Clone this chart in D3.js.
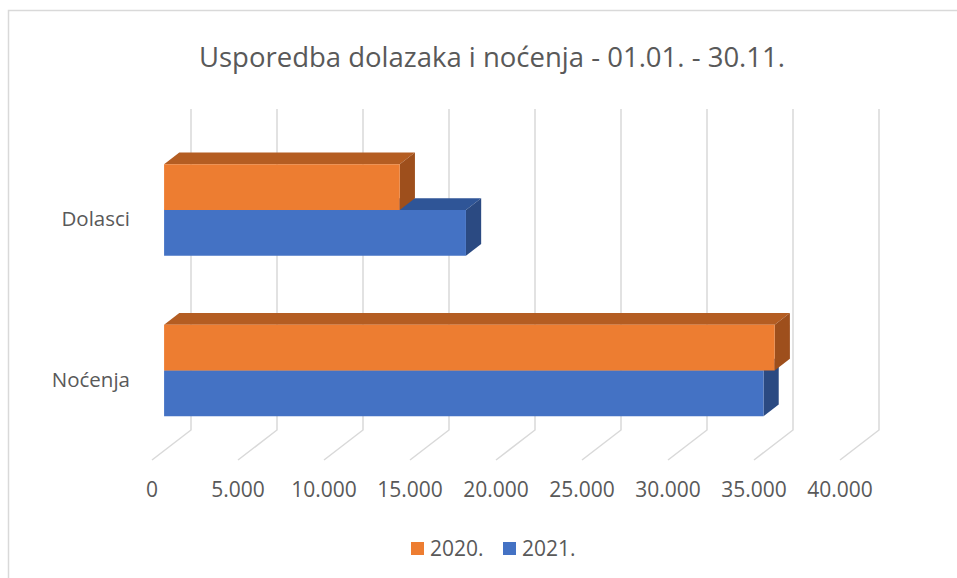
<!DOCTYPE html>
<html>
<head>
<meta charset="utf-8">
<script src="https://cdn.jsdelivr.net/npm/d3@7"></script>
<style>
  body { margin: 0; background: #fff; }
  text { font-family: "Open Sans", sans-serif; fill: #595959; }
</style>
</head>
<body>
<svg id="chart"></svg>
<script>
// data
var categories = ["Dolasci", "Noćenja"];
var seriesNames = ["2020.", "2021."];
var values2020 = [13700, 35500];
var values2021 = [17550, 34850];
var tickValues = [0, 5000, 10000, 15000, 20000, 25000, 30000, 35000, 40000];
var tickLabels = ["0", "5.000", "10.000", "15.000", "20.000", "25.000", "30.000", "35.000", "40.000"];
var title = "Usporedba dolazaka i noćenja - 01.01. - 30.11.";

function main(){
    var svgWidth = 957, svgHeight = 578;
    var svg = d3.select('#chart')
        .attr('width', svgWidth)
        .attr('height', svgHeight);

    // frame
    svg.append('rect')
        .attr('x', 8.5).attr('y', 10.5)
        .attr('width', 960).attr('height', 600)
        .attr('fill', 'none')
        .attr('stroke', '#d9d9d9')
        .attr('stroke-width', 1.5);

    // 3d setup: front plane + depth offset
    var x0 = 152, floorY = 460, topY = 139;
    var DX = 39, DY = 30;          // full depth shift
    var d1 = 0.31, d2 = 0.70;      // bar front/back depth

    var xScale = d3.scaleLinear()
        .domain([0, 40000])
        .range([0, 688]);

    var yScale = d3.scaleBand()
        .domain(categories)
        .range([topY, floorY])
        .paddingInner(0.43)
        .paddingOuter(0.215);

    var subScale = d3.scaleBand()
        .domain(seriesNames)
        .range([0, yScale.bandwidth()]);

    function P(v, y, d){
        return [x0 + xScale(v) + DX * d, y - DY * d];
    }
    function pts(arr){
        return arr.map(function(p){ return p.join(','); }).join(' ');
    }

    // gridlines: diagonal on floor + vertical on back wall
    var grid = svg.append('g');
    tickValues.forEach(function(t){
        var a = P(t, floorY, 0), b = P(t, floorY, 1), c = P(t, topY, 1);
        grid.append('polyline')
            .attr('points', pts([a, b, c]))
            .attr('fill', 'none')
            .attr('stroke', '#d9d9d9')
            .attr('stroke-width', 1.5);
    });

    // tick labels
    svg.selectAll('.tick')
        .data(tickValues)
        .enter()
        .append('text')
        .attr('class', 'tick')
        .attr('x', function(d){ return P(d, floorY, 0)[0]; })
        .attr('y', 497)
        .attr('text-anchor', 'middle')
        .attr('font-size', '21px')
        .text(function(d, i){ return tickLabels[i]; });

    // category labels
    svg.selectAll('.cat')
        .data(categories)
        .enter()
        .append('text')
        .attr('class', 'cat')
        .attr('x', 130)
        .attr('y', function(d){ return yScale(d) + yScale.bandwidth() / 2 + 7; })
        .attr('text-anchor', 'end')
        .attr('font-size', '20.5px')
        .text(function(d){ return d; });

    var colors = {
        "2020.": {front: '#ED7D31', top: '#B45D22', side: '#9E4F1C'},
        "2021.": {front: '#4472C4', top: '#2F5597', side: '#2B4A82'}
    };

    var bars = [];
    categories.forEach(function(c, i){
        bars.push({cat: c, s: "2021.", v: values2021[i]});
        bars.push({cat: c, s: "2020.", v: values2020[i]});
    });

    var g = svg.selectAll('.bar')
        .data(bars)
        .enter()
        .append('g')
        .attr('class', 'bar');

    function box(d){
        var yT = yScale(d.cat) + subScale(d.s);
        var yB = yT + subScale.bandwidth();
        return {yT: yT, yB: yB};
    }
    // top face
    g.append('polygon')
        .attr('points', function(d){
            var b = box(d);
            return pts([P(0, b.yT, d1), P(d.v, b.yT, d1), P(d.v, b.yT, d2), P(0, b.yT, d2)]);
        })
        .attr('fill', function(d){ return colors[d.s].top; });
    // side face
    g.append('polygon')
        .attr('points', function(d){
            var b = box(d);
            return pts([P(d.v, b.yT, d1), P(d.v, b.yT, d2), P(d.v, b.yB, d2), P(d.v, b.yB, d1)]);
        })
        .attr('fill', function(d){ return colors[d.s].side; });
    // front face
    g.append('polygon')
        .attr('points', function(d){
            var b = box(d);
            return pts([P(0, b.yT, d1), P(d.v, b.yT, d1), P(d.v, b.yB, d1), P(0, b.yB, d1)]);
        })
        .attr('fill', function(d){ return colors[d.s].front; });

    // title
    svg.append('text')
        .attr('x', 492)
        .attr('y', 67)
        .attr('text-anchor', 'middle')
        .attr('font-size', '27.5px')
        .text(title);

    // legend
    var legend = svg.append('g');
    var legX = [411, 503];
    seriesNames.forEach(function(s, i){
        legend.append('rect')
            .attr('x', legX[i]).attr('y', 542)
            .attr('width', 13).attr('height', 13)
            .attr('fill', colors[s].front);
        legend.append('text')
            .attr('x', legX[i] + 19)
            .attr('y', 556)
            .attr('font-size', '21px')
            .text(s);
    });
}
main();
</script>
</body>
</html>
